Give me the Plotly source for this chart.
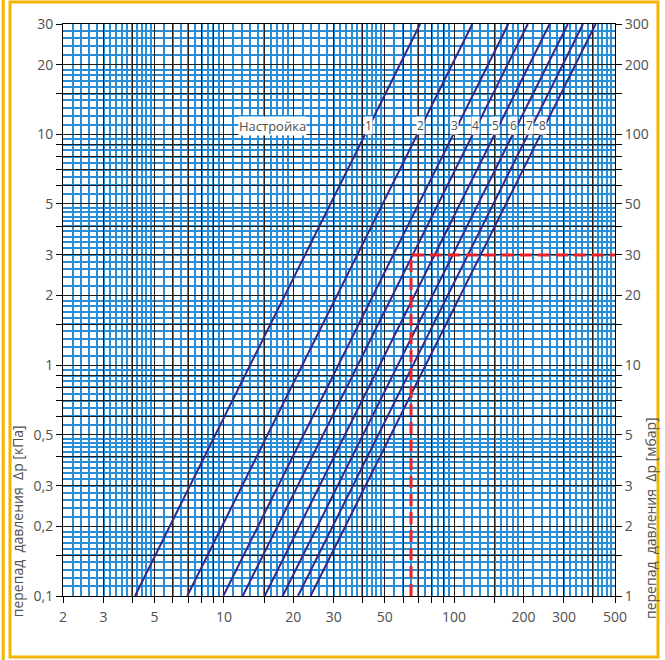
import numpy as np
import plotly.graph_objects as go

# =============================================================================
# Data
# =============================================================================

# pressure drop range covered by the setting lines [kPa]
dp_ends = [0.1, 30]

# flow [l/h] where each setting line meets 0.1 kPa and 30 kPa
flow_at_low = [4.11, 6.93, 9.94, 12.07, 15.04, 18.0, 20.98, 23.8]
flow_at_high = [71.2, 120, 172, 209, 260, 312, 363, 412]
settings = ["1", "2", "3", "4", "5", "6", "7", "8"]

# where the setting numbers sit along the lines
label_flow = [42.3, 71.1, 99.9, 123.3, 152, 182, 213.5, 241]
label_dp = 10.9

# worked example (red dashed)
read_flow = 65
read_dp_kpa = 3

# tick labels
x_labels = [2, 3, 5, 10, 20, 30, 50, 100, 200, 300, 500]
y_labels = [0.1, 0.2, 0.3, 0.5, 1, 2, 3, 5, 10, 20, 30]
y2_labels = [1, 2, 3, 5, 10, 20, 30, 50, 100, 200, 300]

# graph paper: dark lines and blue lines inside one decade
dark_mantissa = [1, 1.5, 2, 3, 4, 5, 6, 7, 8, 9]
blue_mantissa = (list(np.arange(1.1, 2.0, 0.1)) + list(np.arange(2.2, 5.0, 0.2))
                 + list(np.arange(5.5, 10.0, 0.5)))


def decade_values(mantissa, lo, hi):
    vals = []
    for e in range(-2, 4):
        for m in mantissa:
            v = round(m * 10 ** e, 6)
            if lo - 1e-9 <= v <= hi + 1e-9:
                vals.append(v)
    return sorted(set(vals))


def fmt(v):
    return ("%g" % v).replace(".", ",")


x_dark = decade_values(dark_mantissa, 2, 500)
y_dark = decade_values(dark_mantissa, 0.1, 30)
y2_dark = decade_values(dark_mantissa, 1, 300)
x_blue = decade_values(blue_mantissa, 2, 500)
y_blue = decade_values(blue_mantissa, 0.1, 30)

FONT = "Open Sans"
GREY = "#505050"
LINE = "#33288c"

fig = go.Figure()

for i in range(len(settings)):
    fig.add_trace(go.Scatter(x=[flow_at_low[i], flow_at_high[i]], y=dp_ends,
                             mode="lines", line=dict(color=LINE, width=2),
                             showlegend=False, hoverinfo="skip"))

# red example on the mbar axis
fig.add_trace(go.Scatter(x=[read_flow, read_flow, 500],
                         y=[1, read_dp_kpa * 10, read_dp_kpa * 10],
                         yaxis="y2", mode="lines",
                         line=dict(color="#e8202a", width=3, dash="12px,6px"),
                         showlegend=False, hoverinfo="skip"))

# setting labels
fig.add_annotation(x=np.log10(16.2), y=np.log10(label_dp), text="Настройка",
                   showarrow=False, bgcolor="white", borderpad=0,
                   font=dict(family=FONT, size=13, color=GREY))
for s, fx in zip(settings, label_flow):
    fig.add_annotation(x=np.log10(fx), y=np.log10(label_dp), text=s,
                       showarrow=False, bgcolor="white", borderpad=0,
                       font=dict(family=FONT, size=12, color=GREY))

# axis titles
fig.add_annotation(xref="paper", yref="paper", x=-0.083, y=0.131,
                   xanchor="center", yanchor="middle",
                   text="перепад  давления  Δp [кПа]", textangle=-90,
                   showarrow=False, font=dict(family=FONT, size=14, color=GREY))
fig.add_annotation(xref="paper", yref="paper", x=1.063, y=0.136,
                   xanchor="center", yanchor="middle",
                   text="перепад  давления  Δp [мбар]", textangle=-90,
                   showarrow=False, font=dict(family=FONT, size=14, color=GREY))

# orange frame
orange = "#f6b400"
fig.add_shape(type="rect", xref="paper", yref="paper",
              x0=-0.096, x1=1.0779, y0=-0.1066, y1=1.0385,
              line=dict(color=orange, width=3), layer="below")
fig.add_shape(type="line", xref="paper", yref="paper",
              x0=-0.1083, x1=-0.1083, y0=-0.12, y1=1.05,
              line=dict(color=orange, width=3), layer="below")

axis_common = dict(type="log", ticks="outside", ticklen=6, tickcolor="black",
                   tickwidth=1, showline=True, linecolor="black", linewidth=1,
                   zeroline=False, tickfont=dict(family=FONT, size=14, color=GREY))

fig.update_layout(
    width=665, height=660,
    margin=dict(l=63, r=50, t=24, b=64),
    paper_bgcolor="white", plot_bgcolor="white",
    xaxis=dict(**axis_common, range=[np.log10(2), np.log10(500)],
               tickmode="array", tickvals=x_dark,
               ticktext=[fmt(v) if v in x_labels else "" for v in x_dark],
               showgrid=True, gridcolor="#1e1e1e", gridwidth=1.2,
               mirror=True, ticklabelstandoff=2,
               minor=dict(tickmode="array", tickvals=x_blue, showgrid=True,
                          gridcolor="#2a8ed6", gridwidth=1.5, ticks="")),
    yaxis=dict(**axis_common, range=[-1, np.log10(30)],
               tickmode="array", tickvals=y_dark,
               ticktext=[fmt(v) if v in y_labels else "" for v in y_dark],
               showgrid=True, gridcolor="#1e1e1e", gridwidth=1.2,
               minor=dict(tickmode="array", tickvals=y_blue, showgrid=True,
                          gridcolor="#2a8ed6", gridwidth=1.5, ticks="")),
    yaxis2=dict(**axis_common, range=[0, np.log10(300)], overlaying="y",
                side="right", tickmode="array", tickvals=y2_dark,
                ticktext=[fmt(v) if v in y2_labels else "" for v in y2_dark],
                showgrid=False),
)

fig.write_html("out.html", config={"displayModeBar": False},
               post_script="document.body.style.margin='0';")
